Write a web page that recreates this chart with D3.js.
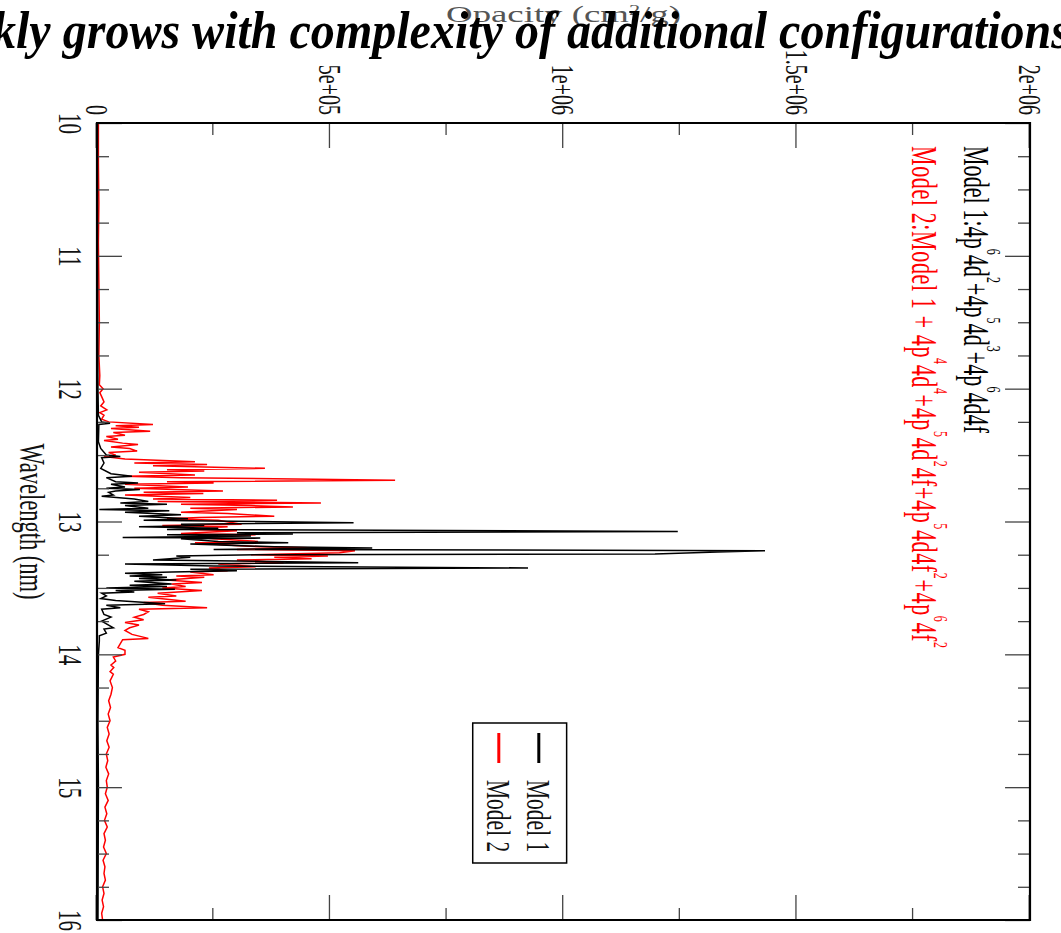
<!DOCTYPE html>
<html>
<head>
<meta charset="utf-8">
<script src="https://cdn.jsdelivr.net/npm/d3@7"></script>
<style>
  body { margin: 0; background: #fff; }
  svg { display: block; }
  text { font-family: "Liberation Serif", "Times New Roman", serif; }
</style>
</head>
<body>
<div id="chart"></div>
<script>
// wavelength (nm) and opacity (units of 1e3 cm^2/g)
const model1Wl = [
  10.00, 11.00, 12.00, 12.20, 12.25, 12.26, 12.27, 12.40, 12.45, 12.50,
  12.51, 12.52, 12.56, 12.60, 12.64, 12.66, 12.67, 12.70, 12.71, 12.72,
  12.74, 12.75, 12.76, 12.77, 12.78, 12.80, 12.81, 12.83, 12.85, 12.86,
  12.87, 12.88, 12.90, 12.91, 12.92, 12.93, 12.95, 12.96, 12.98, 12.99,
  13.01, 13.02, 13.03, 13.04, 13.05, 13.06, 13.075, 13.085, 13.095, 13.10,
  13.11, 13.12, 13.125, 13.13, 13.15, 13.16, 13.17, 13.19, 13.20, 13.21,
  13.22, 13.23, 13.245, 13.25, 13.26, 13.27, 13.29, 13.31, 13.32, 13.335,
  13.35, 13.36, 13.37, 13.38, 13.39, 13.40, 13.41, 13.42, 13.43, 13.44,
  13.45, 13.47, 13.48, 13.49, 13.50, 13.51, 13.52, 13.53, 13.54, 13.56,
  13.58, 13.595, 13.62, 13.63, 13.65, 13.66, 13.70, 13.72, 13.75, 13.80,
  13.81, 13.84, 13.86, 13.90, 14.00, 14.50, 15.00, 16.00
];
const model1Op = [
  1, 1, 2, 3, 10, 28, 4, 3, 8, 20,
  50, 10, 15, 8, 30, 75, 20, 40, 88, 30,
  60, 20, 92, 40, 25, 35, 10, 80, 110, 50,
  150, 60, 110, 5, 155, 60, 180, 90, 195, 100,
  550, 180, 230, 90, 260, 150, 1245, 300, 420, 150,
  330, 55, 350, 180, 260, 410, 200, 380, 590, 250,
  1432, 1330, 1196, 350, 170, 200, 120, 560, 60, 250,
  924, 200, 300, 160, 60, 140, 70, 150, 90, 170,
  80, 160, 70, 150, 20, 167, 40, 80, 10, 20,
  8, 40, 146, 20, 50, 10, 15, 30, 10, 35,
  15, 20, 5, 5, 3, 2, 3, 2
];
const model2Wl = [
  10.00, 10.30, 10.60, 10.90, 11.20, 11.50, 11.75, 11.90, 11.97, 12.00,
  12.03, 12.06, 12.10, 12.13, 12.16, 12.18, 12.20, 12.23, 12.25, 12.27,
  12.28, 12.29, 12.30, 12.32, 12.33, 12.35, 12.36, 12.38, 12.39, 12.41,
  12.42, 12.44, 12.45, 12.47, 12.48, 12.50, 12.51, 12.53, 12.55, 12.56,
  12.57, 12.58, 12.60, 12.61, 12.62, 12.63, 12.65, 12.66, 12.67, 12.69,
  12.70, 12.71, 12.72, 12.74, 12.75, 12.77, 12.78, 12.79, 12.80, 12.82,
  12.83, 12.84, 12.85, 12.86, 12.87, 12.88, 12.89, 12.90, 12.91, 12.93,
  12.94, 12.96, 12.97, 12.98, 12.99, 13.02, 13.03, 13.04, 13.06, 13.07,
  13.09, 13.10, 13.12, 13.13, 13.15, 13.16, 13.18, 13.19, 13.20, 13.21,
  13.22, 13.235, 13.25, 13.26, 13.27, 13.28, 13.29, 13.31, 13.32, 13.34,
  13.35, 13.37, 13.38, 13.40, 13.41, 13.42, 13.44, 13.46, 13.47, 13.49,
  13.50, 13.52, 13.54, 13.56, 13.57, 13.60, 13.61, 13.63, 13.65, 13.66,
  13.68, 13.70, 13.72, 13.74, 13.76, 13.78, 13.80, 13.82, 13.85, 13.88,
  13.89, 13.92, 13.95, 13.97, 14.00, 14.02, 14.05, 14.08, 14.10, 14.13,
  14.15, 14.20, 14.25, 14.30, 14.35, 14.40, 14.45, 14.50, 14.55, 14.60,
  14.65, 14.70, 14.75, 14.80, 14.85, 14.90, 14.95, 15.00, 15.05, 15.10,
  15.15, 15.20, 15.25, 15.30, 15.35, 15.40, 15.45, 15.50, 15.55, 15.60,
  15.65, 15.70, 15.75, 15.80, 15.85, 15.90, 15.95, 16.00
];
const model2Op = [
  3, 3, 4, 3, 4, 5, 4, 6, 5, 13,
  6, 10, 15, 8, 21, 6, 15, 10, 25, 120,
  40, 90, 30, 114, 35, 60, 20, 45, 15, 55,
  88, 30, 70, 86, 25, 40, 15, 60, 210, 80,
  236, 120, 360, 150, 230, 90, 210, 60, 180, 639,
  150, 250, 60, 195, 80, 270, 100, 228, 60, 200,
  120, 386, 130, 480, 180, 330, 420, 200, 300, 180,
  280, 380, 220, 150, 260, 310, 140, 280, 200, 300,
  180, 340, 220, 250, 345, 210, 296, 350, 480, 300,
  553, 520, 330, 495, 380, 460, 300, 400, 260, 340,
  240, 280, 200, 250, 170, 230, 150, 225, 160, 190,
  140, 225, 130, 170, 110, 190, 100, 140, 236, 90,
  110, 100, 80, 100, 60, 90, 70, 60, 75, 110,
  55, 50, 45, 60, 60, 35, 40, 30, 36, 28,
  35, 28, 33, 30, 25, 29, 24, 28, 22, 26,
  21, 26, 20, 23, 19, 25, 20, 22, 18, 24,
  17, 21, 16, 22, 15, 18, 14, 20, 13, 17,
  15, 18, 12, 15, 11, 14, 10, 12
];

const wlTicks = [10, 11, 12, 13, 14, 15, 16];
const opTicks = [0, 5e5, 1e6, 1.5e6, 2e6];
const opTickLabels = ["0", "5e+05", "1e+06", "1.5e+06", "2e+06"];
const legendNames = ["Model 1", "Model 2"];
const seriesColors = ["#000000", "#ff0000"];

// the whole graph is turned a quarter turn clockwise and stretched sideways
const stretch = 1.6;
const plotLeft = 97, plotRight = 1030, plotTop = 123, plotBottom = 920;
const W = plotBottom - plotTop;
const H = (plotRight - plotLeft) / stretch;

const svg = d3.select("#chart").append("svg")
  .attr("width", 1061)
  .attr("height", 933);

const g = svg.append("g")
  .attr("transform", `translate(${plotRight},${plotTop}) rotate(90) scale(1,${stretch})`);

const x = d3.scaleLinear().domain([10, 16]).range([0, W]);
const y = d3.scaleLinear().domain([0, 2e6]).range([H, 0]);

g.append("clipPath").attr("id", "clip")
  .append("rect").attr("width", W).attr("height", H);

const line = d3.line()
  .x(d => x(d[0]))
  .y(d => y(d[1] * 1e3));

const model2 = d3.zip(model2Wl, model2Op);
const model1 = d3.zip(model1Wl, model1Op);

g.append("path")
  .datum(model2)
  .attr("clip-path", "url(#clip)")
  .attr("fill", "none")
  .attr("stroke", seriesColors[1])
  .attr("stroke-width", 1.5)
  .attr("vector-effect", "non-scaling-stroke")
  .attr("d", line);

g.append("path")
  .datum(model1)
  .attr("clip-path", "url(#clip)")
  .attr("fill", "none")
  .attr("stroke", seriesColors[0])
  .attr("stroke-width", 1.5)
  .attr("vector-effect", "non-scaling-stroke")
  .attr("d", line);

// ticks (all pointing inward)
const wlMinor = d3.range(10, 16, 0.25).filter(v => v % 1 !== 0);
const opMinor = [2.5e5, 7.5e5, 1.25e6, 1.75e6];

function styleAxis(sel, fontSize) {
  sel.select(".domain").remove();
  sel.attr("font-family", null).attr("font-size", null);
  sel.selectAll("line")
    .attr("stroke", "#444")
    .attr("stroke-width", 1.3)
    .attr("vector-effect", "non-scaling-stroke");
  sel.selectAll("text")
    .attr("fill", "#111")
    .style("font-size", fontSize + "px");
}

g.append("g").attr("transform", `translate(0,${H})`)
  .call(d3.axisBottom(x).tickValues(wlTicks).tickSize(-15.6).tickPadding(9).tickFormat(d3.format("d")))
  .call(styleAxis, 21);
g.append("g").attr("transform", `translate(0,${H})`)
  .call(d3.axisBottom(x).tickValues(wlMinor).tickSize(-7.5).tickFormat(""))
  .call(styleAxis, 21);
g.append("g")
  .call(d3.axisTop(x).tickValues(wlTicks).tickSize(-15.6).tickFormat(""))
  .call(styleAxis, 21);
g.append("g")
  .call(d3.axisTop(x).tickValues(wlMinor).tickSize(-7.5).tickFormat(""))
  .call(styleAxis, 21);

g.append("g")
  .call(d3.axisLeft(y).tickValues(opTicks).tickSize(-25).tickPadding(8).tickFormat((d, i) => opTickLabels[i]))
  .call(styleAxis, 20);
g.append("g")
  .call(d3.axisLeft(y).tickValues(opMinor).tickSize(-12).tickFormat(""))
  .call(styleAxis, 20);
g.append("g").attr("transform", `translate(${W},0)`)
  .call(d3.axisRight(y).tickValues(opTicks).tickSize(-25).tickFormat(""))
  .call(styleAxis, 20);
g.append("g").attr("transform", `translate(${W},0)`)
  .call(d3.axisRight(y).tickValues(opMinor).tickSize(-12).tickFormat(""))
  .call(styleAxis, 20);

// frame
g.append("rect")
  .attr("width", W)
  .attr("height", H)
  .attr("fill", "none")
  .attr("stroke", "#000")
  .attr("stroke-width", 2.2)
  .attr("vector-effect", "non-scaling-stroke");

// axis titles
g.append("text")
  .attr("x", W / 2)
  .attr("y", 631)
  .attr("text-anchor", "middle")
  .style("font-size", "22.5px")
  .attr("fill", "#111")
  .text("Wavelength (nm)");

const opLabel = g.append("text")
  .attr("transform", `translate(-101,${H / 2}) rotate(-90)`)
  .attr("text-anchor", "middle")
  .style("font-size", "23px")
  .attr("fill", "#555");
opLabel.append("tspan").text("Opacity (cm");
opLabel.append("tspan").attr("dy", -7).style("font-size", "14px").text("2");
opLabel.append("tspan").attr("dy", 7).text("/g)");

// configuration notes, superscripts raised along the text's own "up"
function superText(sel, parts) {
  const rise = 14;
  let raised = false;
  parts.forEach(p => {
    const ts = sel.append("tspan");
    if (p.sup) {
      ts.attr("dy", -rise).style("font-size", "12px").text(p.sup);
      raised = true;
    } else {
      if (raised) ts.attr("dy", rise);
      ts.text(p.t);
      raised = false;
    }
  });
}

const note1 = g.append("text")
  .attr("x", 23).attr("y", 41)
  .attr("textLength", 287)
  .attr("lengthAdjust", "spacing")
  .style("font-size", "22px")
  .attr("fill", seriesColors[0]);
superText(note1, [
  { t: "Model 1:4p" }, { sup: "6" }, { t: "4d" }, { sup: "2" },
  { t: "+4p" }, { sup: "5" }, { t: "4d" }, { sup: "3" },
  { t: "+4p" }, { sup: "6" }, { t: "4d4f" }
]);

const note2 = g.append("text")
  .attr("x", 23).attr("y", 74)
  .attr("textLength", 502)
  .attr("lengthAdjust", "spacing")
  .style("font-size", "22px")
  .attr("fill", seriesColors[1]);
superText(note2, [
  { t: "Model 2:Model 1 + 4p" }, { sup: "4" }, { t: "4d" }, { sup: "4" },
  { t: "+4p" }, { sup: "5" }, { t: "4d" }, { sup: "2" }, { t: "4f+4p" }, { sup: "5" },
  { t: "4d4f" }, { sup: "2" }, { t: "+4p" }, { sup: "6" }, { t: "4f" }, { sup: "2" }
]);

// legend
const legend = g.append("g");
legend.append("rect")
  .attr("x", 600).attr("y", 289.6)
  .attr("width", 140).attr("height", 58.7)
  .attr("fill", "#fff")
  .attr("stroke", "#000")
  .attr("stroke-width", 1.5)
  .attr("vector-effect", "non-scaling-stroke");

legendNames.forEach((name, i) => {
  const cy = 307 + i * 25;
  legend.append("line")
    .attr("x1", 610).attr("x2", 640)
    .attr("y1", cy).attr("y2", cy)
    .attr("stroke", seriesColors[i])
    .attr("stroke-width", 3)
    .attr("vector-effect", "non-scaling-stroke");
  legend.append("text")
    .attr("x", 657).attr("y", cy + 7.2)
    .style("font-size", "21.5px")
    .attr("fill", "#111")
    .text(name);
});

// slide caption laid over the top of the figure
svg.append("text")
  .attr("x", -8)
  .attr("y", 48)
  .attr("textLength", 1078)
  .attr("lengthAdjust", "spacingAndGlyphs")
  .style("font-size", "53px")
  .style("font-weight", "bold")
  .style("font-style", "italic")
  .attr("fill", "#000")
  .text("kly grows with complexity of additional configurations");
</script>
</body>
</html>
